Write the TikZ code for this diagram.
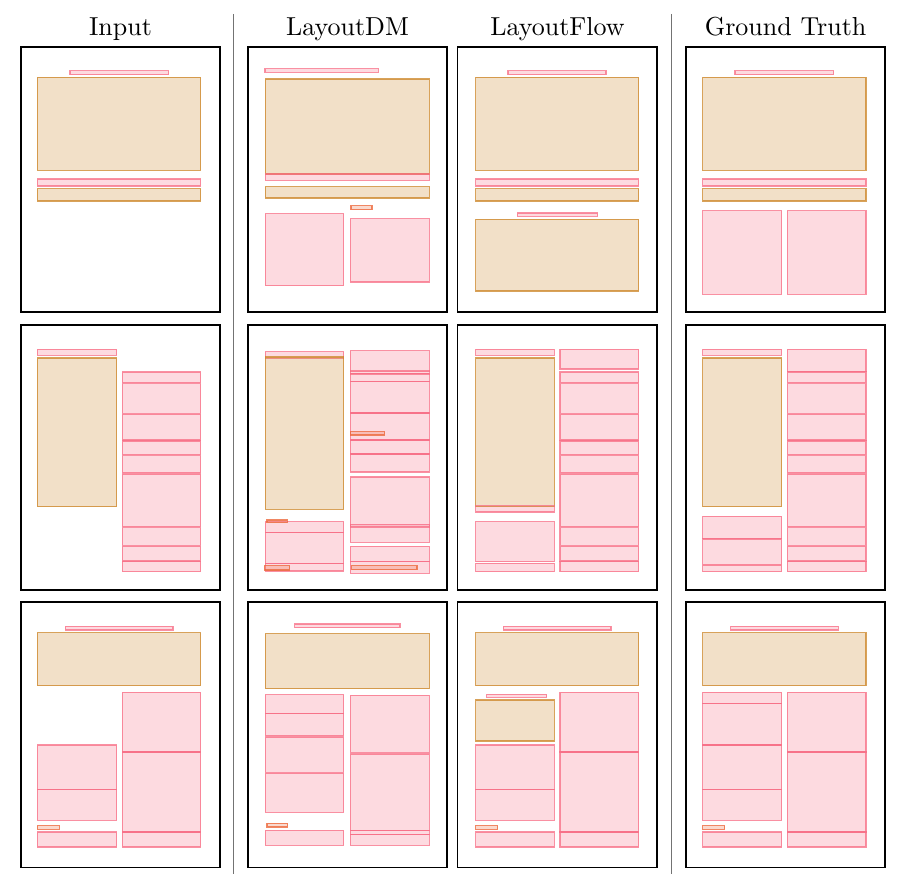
\documentclass[tikz,border=0pt]{standalone}
\usepackage{tikz}

\definecolor{elpink}{RGB}{247,107,131}
\definecolor{eltan}{RGB}{203,131,35}
\definecolor{elcoral}{RGB}{236,105,60}

\begin{document}
\begin{tikzpicture}[
    x=1pt, y=-1pt, % pixel-like units, y grows downwards
    panel/.style={draw=black, line width=1.8pt}, % Frame of one layout
    sepline/.style={draw=black!55, line width=1pt}, % Column separators
    pinkbox/.style={draw=elpink, fill=elpink, draw opacity=0.75, fill opacity=0.25, line width=1.2pt}, % Text elements
    tanbox/.style={draw=eltan, fill=eltan, draw opacity=0.75, fill opacity=0.25, line width=1.2pt}, % Image elements
    coralbox/.style={draw=elcoral, fill=elcoral, draw opacity=0.8, fill opacity=0.25, line width=1.2pt}, % Small labels
    head/.style={anchor=base, inner sep=0pt} % Column titles
]

    \useasboundingbox (0,0) rectangle (903,874);

    % Column titles
    \node[head] (hInput) at (120.5,35.5) {\scalebox{2.6}{Input}};
    \node[head] (hDM)    at (347.5,35.5) {\scalebox{2.6}{LayoutDM}};
    \node[head] (hFlow)  at (557.5,35.5) {\scalebox{2.6}{LayoutFlow}};
    \node[head] (hGT)    at (785.6,35.5) {\scalebox{2.6}{Ground Truth}};

    % Separators
    \draw[sepline] (233.7,14) -- (233.7,874);
    \draw[sepline] (671.7,14) -- (671.7,874);

    % Panel frames
    \foreach \px in {20.8,247.8,457.5,685.8}
        \foreach \py in {46.8,324.8,602.1}
            \draw[panel] (\px,\py) rectangle ++(199.5,265.3);

    % ---------------- Row 1 ----------------
    % Input
    \draw[pinkbox] (70,70.7) rectangle (168.7,74.7);
    \draw[tanbox]  (37.3,77.3) rectangle (200.7,170.3);
    \draw[pinkbox] (37.3,179) rectangle (200.7,186);
    \draw[tanbox]  (37.3,188.7) rectangle (200.7,201);

    % LayoutDM
    \draw[pinkbox]  (265,68.7) rectangle (378.3,72.3);
    \draw[tanbox]   (265.3,79) rectangle (429.3,174);
    \draw[pinkbox]  (265.3,174) rectangle (429.3,180.3);
    \draw[tanbox]   (265.3,186.7) rectangle (429.3,198);
    \draw[coralbox] (351,205.7) rectangle (372,209.7);
    \draw[pinkbox]  (265.3,213.7) rectangle (343.7,285.7);
    \draw[pinkbox]  (350.3,218.7) rectangle (429.3,282);

    % LayoutFlow
    \draw[pinkbox] (508,70.7) rectangle (606,74.7);
    \draw[tanbox]  (475.7,77.3) rectangle (638.7,170.3);
    \draw[pinkbox] (475.7,179) rectangle (638.7,186);
    \draw[tanbox]  (475.7,188.7) rectangle (638.7,201);
    \draw[pinkbox] (517.3,213) rectangle (597.7,216.3);
    \draw[tanbox]  (475.7,219.3) rectangle (638.7,291);

    % Ground Truth
    \draw[pinkbox] (735,70.7) rectangle (833.7,74.7);
    \draw[tanbox]  (702.7,77.3) rectangle (866,170.3);
    \draw[pinkbox] (702.7,179) rectangle (866,186);
    \draw[tanbox]  (702.7,188.7) rectangle (866,201);
    \draw[pinkbox] (702.7,210.7) rectangle (781.7,294.3);
    \draw[pinkbox] (787.3,210.7) rectangle (866,294.3);

    % ---------------- Row 2 ----------------
    % Input
    \draw[pinkbox] (37.3,349.3) rectangle (116.7,355.3);
    \draw[tanbox]  (37.3,358) rectangle (116.7,506.7);
    \foreach \ya/\yb in {372/382.7, 383.7/413.3, 414.3/440, 441/454.7, 455.7/473,
                         474.3/526.7, 527.7/545.3, 546.3/561, 561.7/571.7}
        \draw[pinkbox] (122.3,\ya) rectangle (200.7,\yb);

    % LayoutDM
    \draw[pinkbox]  (265.3,351.7) rectangle (343.7,358.3);
    \draw[tanbox]   (265.3,357) rectangle (343.7,509.3);
    \draw[pinkbox]  (265.3,521.7) rectangle (343.7,532.3);
    \draw[pinkbox]  (265.3,532.3) rectangle (343.7,563.3);
    \draw[pinkbox]  (265.3,563.3) rectangle (343.7,571);
    \draw[coralbox] (267,520) rectangle (287.3,522.7);
    \draw[coralbox] (264.3,565.7) rectangle (289.7,570);
    \foreach \ya/\yb in {350.7/371.7, 370.7/374, 373.3/381.7, 381.7/413, 413/440,
                         440/454, 454/472, 477/527, 524.5/542.3, 546.3/561.7, 561.7/573.3}
        \draw[pinkbox] (350.3,\ya) rectangle (429.3,\yb);
    \draw[coralbox] (350.3,431.7) rectangle (384.7,435);
    \draw[coralbox] (351.7,565.7) rectangle (417,569.7);

    % LayoutFlow
    \draw[pinkbox] (475.7,349.3) rectangle (554.3,355.3);
    \draw[tanbox]  (475.7,358) rectangle (554.3,506.7);
    \draw[pinkbox] (475.7,505.7) rectangle (554.3,512);
    \draw[pinkbox] (475.7,521.7) rectangle (554.3,561.7);
    \draw[pinkbox] (475.7,563.3) rectangle (554.3,571.7);
    \draw[pinkbox] (560,349.3) rectangle (638.7,369);
    \foreach \ya/\yb in {372/382.7, 383.7/413.3, 414.3/440, 441/454.7, 455.7/473,
                         474.3/526.7, 527.7/545.3, 546.3/561, 561.7/571.7}
        \draw[pinkbox] (560,\ya) rectangle (638.7,\yb);

    % Ground Truth
    \draw[pinkbox] (702.7,349.3) rectangle (781.7,355.3);
    \draw[tanbox]  (702.7,358) rectangle (781.7,506.7);
    \draw[pinkbox] (702.7,516.3) rectangle (781.7,538.3);
    \draw[pinkbox] (702.7,539) rectangle (781.7,564.7);
    \draw[pinkbox] (702.7,565.3) rectangle (781.7,571.7);
    \draw[pinkbox] (787.3,349.3) rectangle (866,371.7);
    \foreach \ya/\yb in {372/382.7, 383.7/413.3, 414.3/440, 441/454.7, 455.7/473,
                         474.3/526.7, 527.7/545.3, 546.3/561, 561.7/571.7}
        \draw[pinkbox] (787.3,\ya) rectangle (866,\yb);

    % ---------------- Row 3 ----------------
    % Input
    \draw[pinkbox]  (65.3,626.3) rectangle (173,630);
    \draw[tanbox]   (37.3,632.7) rectangle (200.7,685.7);
    \draw[pinkbox]  (37.3,745) rectangle (116.7,789.7);
    \draw[pinkbox]  (37.3,789.7) rectangle (116.7,820.3);
    \draw[coralbox] (37.3,825.7) rectangle (59.3,829.3);
    \draw[pinkbox]  (37.3,832) rectangle (116.7,847);
    \draw[pinkbox]  (122.3,692.3) rectangle (200.7,752);
    \draw[pinkbox]  (122.3,752) rectangle (200.7,832);
    \draw[pinkbox]  (122.3,832) rectangle (200.7,847);

    % LayoutDM
    \draw[pinkbox]  (294.7,624) rectangle (400,627.7);
    \draw[tanbox]   (265.3,633.7) rectangle (429.3,688.7);
    \draw[pinkbox]  (265.3,694.7) rectangle (343.7,713.3);
    \draw[pinkbox]  (265.3,713.3) rectangle (343.7,735.7);
    \draw[pinkbox]  (265.3,737) rectangle (343.7,772.3);
    \draw[pinkbox]  (265.3,773.3) rectangle (343.7,812.3);
    \draw[coralbox] (267,823.3) rectangle (287.7,827);
    \draw[pinkbox]  (265.3,830.3) rectangle (343.7,845.3);
    \draw[pinkbox]  (350.3,695.3) rectangle (429.3,752.3);
    \draw[pinkbox]  (350.3,754) rectangle (429.3,830.3);
    \draw[pinkbox]  (350.3,830.3) rectangle (429.3,834.3);
    \draw[pinkbox]  (350.3,834.3) rectangle (429.3,845.3);

    % LayoutFlow
    \draw[pinkbox]  (503.3,626.3) rectangle (611,630);
    \draw[tanbox]   (475.7,632.7) rectangle (638.7,685.7);
    \draw[pinkbox]  (486.7,694.3) rectangle (546.7,697.3);
    \draw[tanbox]   (475.7,700) rectangle (554.3,741);
    \draw[pinkbox]  (475.7,745) rectangle (554.3,789.7);
    \draw[pinkbox]  (475.7,789.7) rectangle (554.3,820.3);
    \draw[coralbox] (475.7,825.7) rectangle (497.7,829.3);
    \draw[pinkbox]  (475.7,832) rectangle (554.3,847);
    \draw[pinkbox]  (560,692.3) rectangle (638.7,752);
    \draw[pinkbox]  (560,752) rectangle (638.7,832);
    \draw[pinkbox]  (560,832) rectangle (638.7,847);

    % Ground Truth
    \draw[pinkbox]  (730.7,626.3) rectangle (838.3,630);
    \draw[tanbox]   (702.7,632.7) rectangle (866,685.7);
    \draw[pinkbox]  (702.7,692.3) rectangle (781.7,703.3);
    \draw[pinkbox]  (702.7,703.3) rectangle (781.7,745);
    \draw[pinkbox]  (702.7,745) rectangle (781.7,789.7);
    \draw[pinkbox]  (702.7,789.7) rectangle (781.7,820.3);
    \draw[coralbox] (702.7,825.7) rectangle (724.5,829.3);
    \draw[pinkbox]  (702.7,832) rectangle (781.7,847);
    \draw[pinkbox]  (787.3,692.3) rectangle (866,752);
    \draw[pinkbox]  (787.3,752) rectangle (866,832);
    \draw[pinkbox]  (787.3,832) rectangle (866,847);

\end{tikzpicture}
\end{document}
